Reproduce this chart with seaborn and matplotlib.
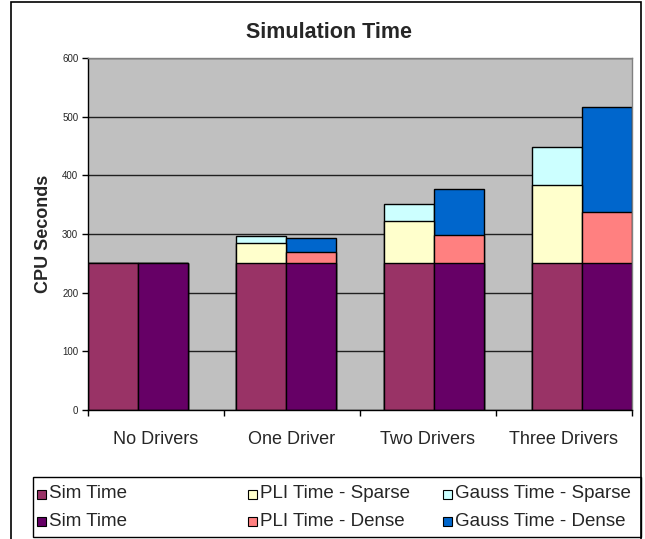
import numpy as np
import matplotlib
matplotlib.use("Agg")
import matplotlib.pyplot as plt
import seaborn as sns
from matplotlib.patches import Rectangle

# Simulation run times (CPU seconds) per driver configuration
categories = ["No Drivers", "One Driver", "Two Drivers", "Three Drivers"]
sim_sparse = [250, 250, 250, 250]
pli_sparse = [0, 35, 72, 133]
gauss_sparse = [0, 11, 30, 65]
sim_dense = [250, 250, 250, 250]
pli_dense = [0, 20, 48, 87]
gauss_dense = [0, 23, 79, 180]
y_ticks = [0, 100, 200, 300, 400, 500, 600]

colors = {
    "sim_sparse": "#993366", "pli_sparse": "#FFFFCC", "gauss_sparse": "#CCFFFF",
    "sim_dense": "#660066", "pli_dense": "#FF8080", "gauss_dense": "#0066CC",
}

sns.set_style("white")
plt.rcParams["font.family"] = ["Liberation Sans", "DejaVu Sans"]

fig = plt.figure(figsize=(6.45, 5.39), dpi=100)
ax = fig.add_axes([0.1364, 0.2393, 0.8434, 0.6530])
ax.set_facecolor("#C0C0C0")

n = len(categories)
bar_w = 50 / 136                       # one bar, in category units
step = (n - 2 * bar_w) / (n - 1)       # spacing between bar pairs
left = np.arange(n) * step
x_sparse = left + bar_w / 2
x_dense = left + 1.5 * bar_w

def cumulative(*parts):
    return np.cumsum(np.array(parts, dtype=float), axis=0)

cs = cumulative(sim_sparse, pli_sparse, gauss_sparse)
cd = cumulative(sim_dense, pli_dense, gauss_dense)

# stacked bars: draw totals first, then lower segments on top
layers = [(2, "gauss"), (1, "pli"), (0, "sim")]
for idx, name in layers:
    for xs, tot, kind in [(x_sparse, cs, "sparse"), (x_dense, cd, "dense")]:
        sns.barplot(x=xs, y=tot[idx], native_scale=True, orient="x",
                    width=bar_w / step, color=colors[f"{name}_{kind}"],
                    saturation=1, edgecolor="black", linewidth=1.0,
                    errorbar=None, ax=ax, zorder=2)

ax.set_xlim(0, n)
ax.set_ylim(0, 600)
ax.set_yticks(y_ticks)
ax.set_yticklabels([str(v) for v in y_ticks], fontsize=7)
ax.yaxis.grid(True, color="#202020", linewidth=1.0, zorder=0)
ax.set_axisbelow(True)

ax.set_xticks(np.arange(n + 1))
ax.set_xticklabels([])
ax.set_xticks(np.arange(n) + 0.5, minor=True)
ax.set_xticklabels(categories, minor=True, fontsize=13)
ax.tick_params(axis="x", which="major", direction="out", length=4, width=1,
               color="black", bottom=True)
ax.tick_params(axis="x", which="minor", length=0, pad=15)
ax.tick_params(axis="y", direction="out", length=4, width=1, color="black",
               left=True, pad=3)
ax.set_xlabel("")
ax.set_ylabel("CPU Seconds", fontsize=13, fontweight="bold")
ax.yaxis.set_label_coords(-0.066, 0.5)

for side in ("left", "bottom"):
    ax.spines[side].set_color("black")
    ax.spines[side].set_linewidth(1.0)
for side in ("top", "right"):
    ax.spines[side].set_color("#808080")
    ax.spines[side].set_linewidth(1.0)

fig.text(329 / 645, 1 - 33 / 539, "Simulation Time", ha="center", va="center",
         fontsize=15.5, fontweight="bold")

# outer chart frame
fig.add_artist(Rectangle((11 / 645, -0.01), 630 / 645, 1.01 - 2 / 539,
                         transform=fig.transFigure, fill=False,
                         edgecolor="black", linewidth=1.2))

# legend box with two rows of three entries
fig.add_artist(Rectangle((33 / 645, 2 / 539), 608 / 645, 60 / 539,
                         transform=fig.transFigure, fill=False,
                         edgecolor="black", linewidth=1.0))
entries = [
    ("Sim Time", colors["sim_sparse"], 0, 0),
    ("PLI Time - Sparse", colors["pli_sparse"], 1, 0),
    ("Gauss Time - Sparse", colors["gauss_sparse"], 2, 0),
    ("Sim Time", colors["sim_dense"], 0, 1),
    ("PLI Time - Dense", colors["pli_dense"], 1, 1),
    ("Gauss Time - Dense", colors["gauss_dense"], 2, 1),
]
col_x = [37, 248, 443]
row_y = [494, 521]
for label, col, c, r in entries:
    x0 = col_x[c]
    yc = row_y[r]
    fig.add_artist(Rectangle((x0 / 645, 1 - (yc + 4.5) / 539), 9 / 645, 9 / 539,
                             transform=fig.transFigure, facecolor=col,
                             edgecolor="black", linewidth=0.8))
    fig.text((x0 + 12) / 645, 1 - yc / 539, label, ha="left", va="center",
             fontsize=13.5)

fig.savefig("out.png", dpi=100)
